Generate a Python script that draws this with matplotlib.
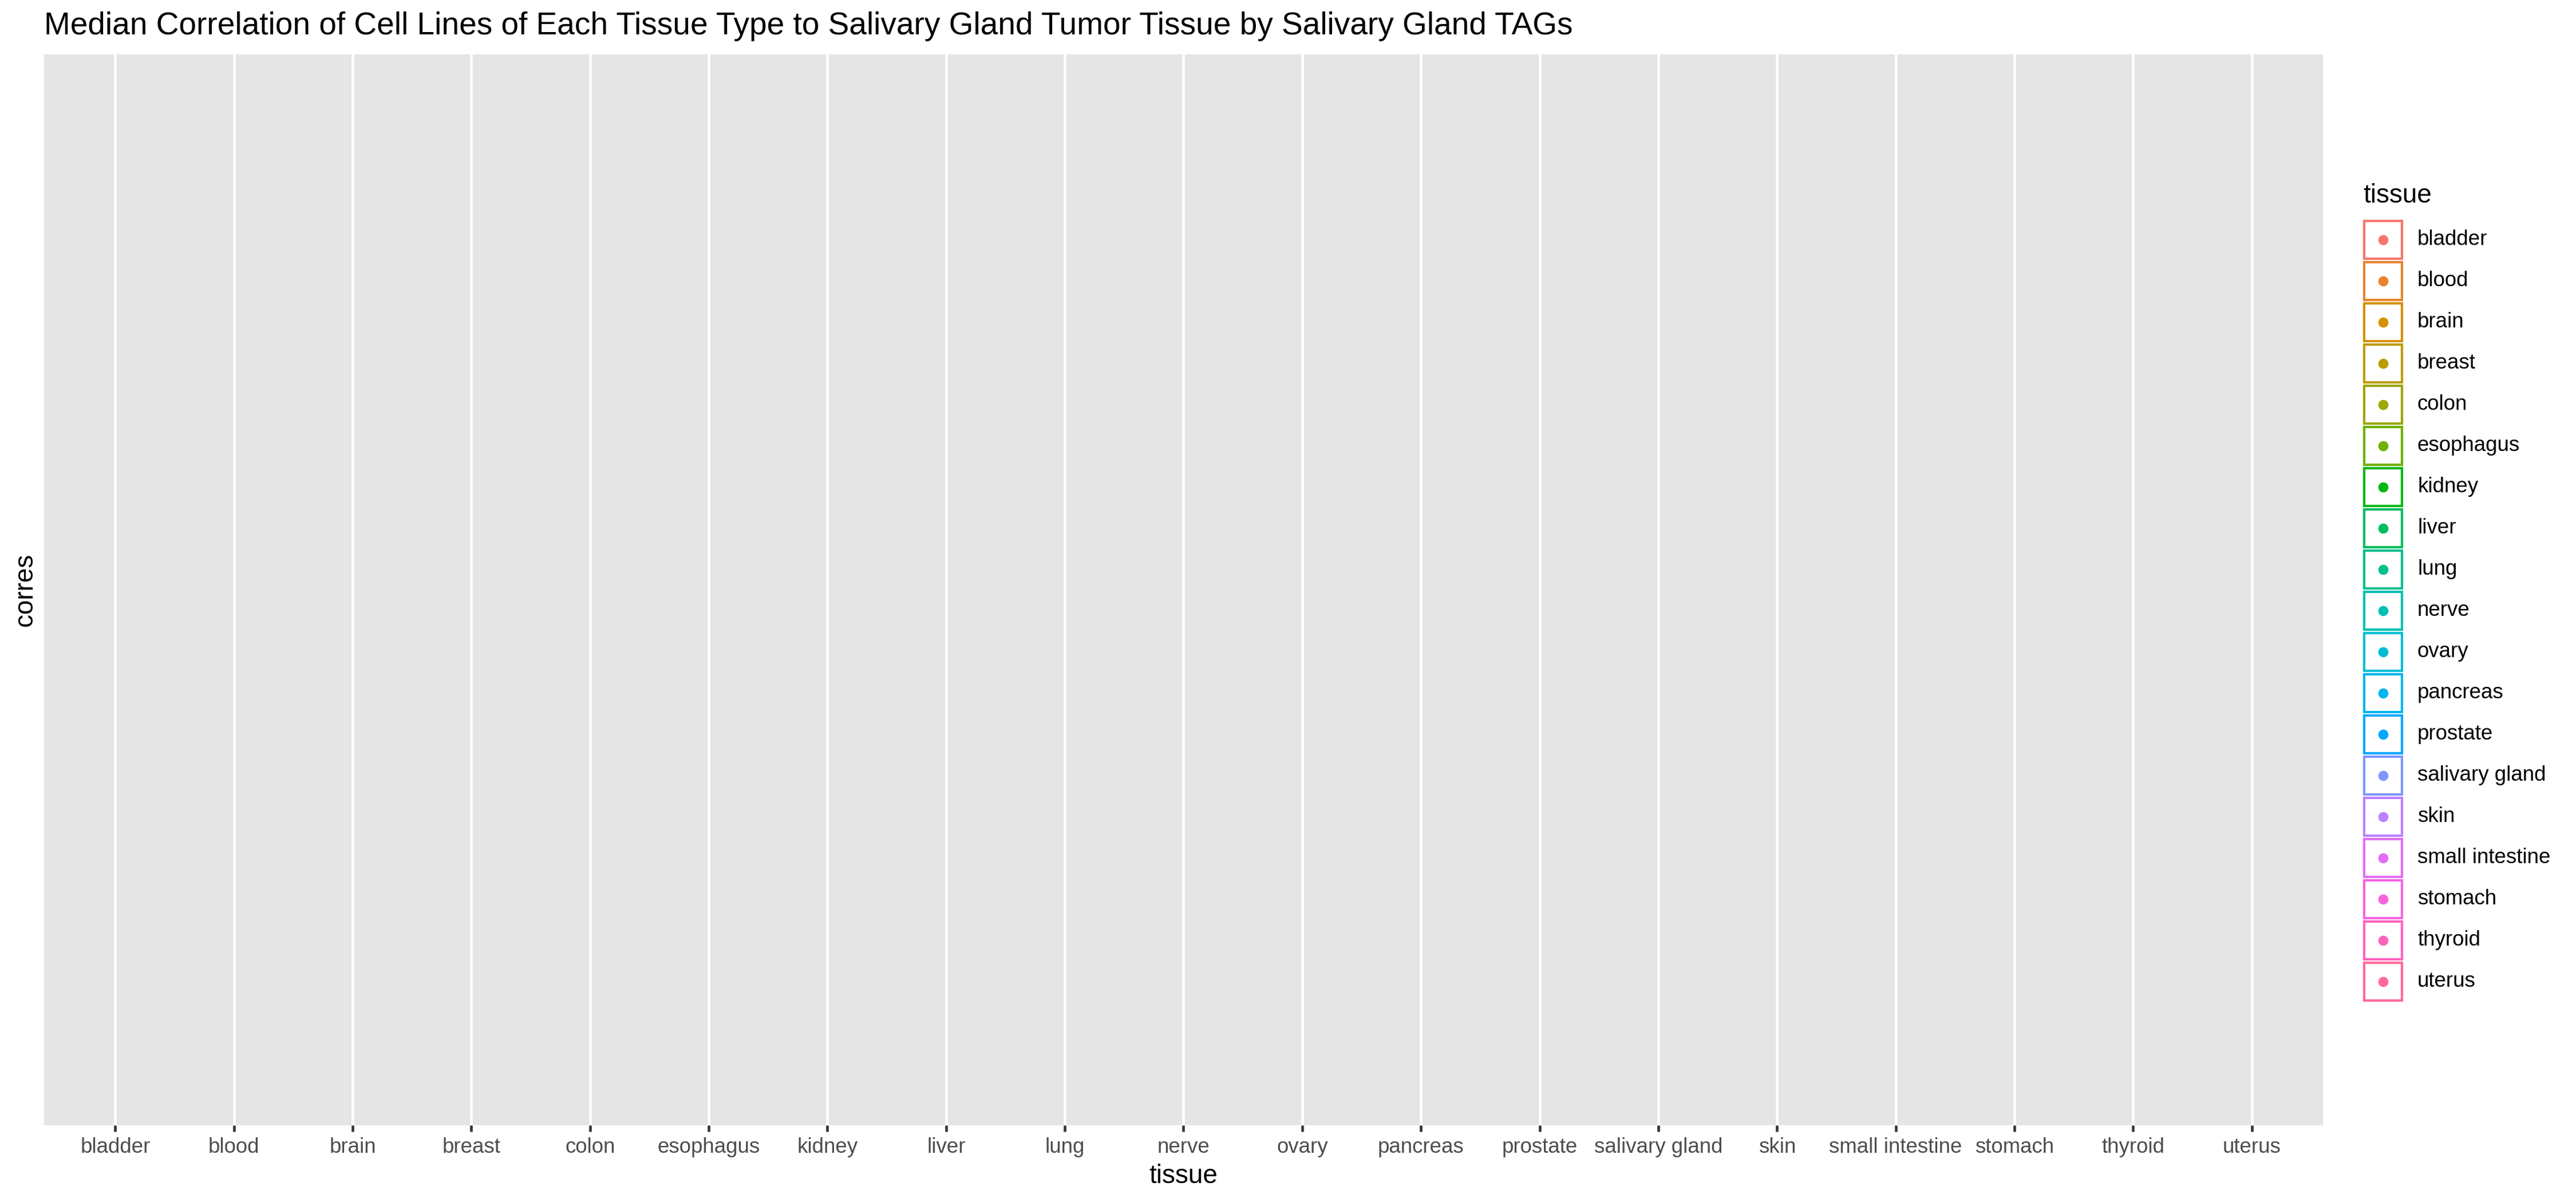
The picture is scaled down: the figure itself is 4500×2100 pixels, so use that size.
import numpy as np
import matplotlib
matplotlib.use("Agg")
import matplotlib.pyplot as plt
from matplotlib.patches import Rectangle

plt.rcParams['font.family'] = ['Liberation Sans', 'DejaVu Sans']

title = "Median Correlation of Cell Lines of Each Tissue Type to Salivary Gland Tumor Tissue by Salivary Gland TAGs"
x_label = "tissue"
y_label = "corres"
legend_title = "tissue"
tissues = ["bladder", "blood", "brain", "breast", "colon", "esophagus", "kidney",
           "liver", "lung", "nerve", "ovary", "pancreas", "prostate", "salivary gland",
           "skin", "small intestine", "stomach", "thyroid", "uterus"]


def hue_pal(n, l=65, c=100, h0=15):
    # ggplot2 default discrete palette (polar Luv -> sRGB)
    hues = np.linspace(h0, h0 + 360, n + 1)[:-1]
    xn, yn, zn = 0.95047, 1.0, 1.08883
    un = 4 * xn / (xn + 15 * yn + 3 * zn)
    vn = 9 * yn / (xn + 15 * yn + 3 * zn)
    m = np.array([[3.2404542, -1.5371385, -0.4985314],
                  [-0.9692660, 1.8760108, 0.0415560],
                  [0.0556434, -0.2040259, 1.0572252]])
    out = []
    for h in hues:
        u = c * np.cos(np.radians(h))
        v = c * np.sin(np.radians(h))
        Y = ((l + 16) / 116) ** 3
        up = u / (13 * l) + un
        vp = v / (13 * l) + vn
        X = 9 * Y * up / (4 * vp)
        Z = Y * (12 - 3 * up - 20 * vp) / (4 * vp)
        rgb = m @ np.array([X, Y, Z])
        rgb = np.where(rgb <= 0.0031308, 12.92 * rgb, 1.055 * np.abs(rgb) ** (1 / 2.4) - 0.055)
        out.append(tuple(np.clip(rgb, 0, 1)))
    return out


colors = hue_pal(len(tissues))

W, H = 4500, 2100
fig = plt.figure(figsize=(15, 7), dpi=300, facecolor='white')

# main panel
ax = fig.add_axes([77 / W, 1 - 1966 / H, (4058 - 77) / W, (1966 - 95) / H])
ax.set_facecolor('#E5E5E5')
pos = np.arange(1, len(tissues) + 1)
ax.set_xlim(0.4, len(tissues) + 0.6)
ax.set_ylim(0, 1)
ax.set_xticks(pos)
ax.set_xticklabels(tissues)
ax.set_yticks([])
ax.xaxis.grid(True, color='white', linewidth=1.1)
ax.set_axisbelow(True)
for s in ax.spines.values():
    s.set_visible(False)
ax.tick_params(axis='x', length=2.75, width=1.1, color='#333333',
               labelcolor='#4D4D4D', labelsize=8.8, pad=2.2)
ax.set_xlabel(x_label, fontsize=11, labelpad=2.75)
ax.set_ylabel(y_label, fontsize=11, labelpad=2.75)

fig.text(77 / W, 1 - 60 / H, title, fontsize=13.2, va='baseline', ha='left')

# legend, drawn in pixel space
lax = fig.add_axes([0, 0, 1, 1], facecolor='none')
lax.set_xlim(0, W)
lax.set_ylim(H, 0)
lax.axis('off')
lax.text(4128, 354, legend_title, fontsize=11, va='baseline', ha='left')
key = 72
top = 383
for i, (t, col) in enumerate(zip(tissues, colors)):
    cy = top + key / 2 + i * key
    lax.add_patch(Rectangle((4163 - 33, cy - 33), 66, 66, facecolor='white',
                            edgecolor=col, linewidth=1.0))
    lax.scatter([4163], [cy], s=18, color=col, linewidths=0)
    lax.text(4223, cy, t, fontsize=8.8, va='center', ha='left')

fig.savefig("out.png", dpi=300)
